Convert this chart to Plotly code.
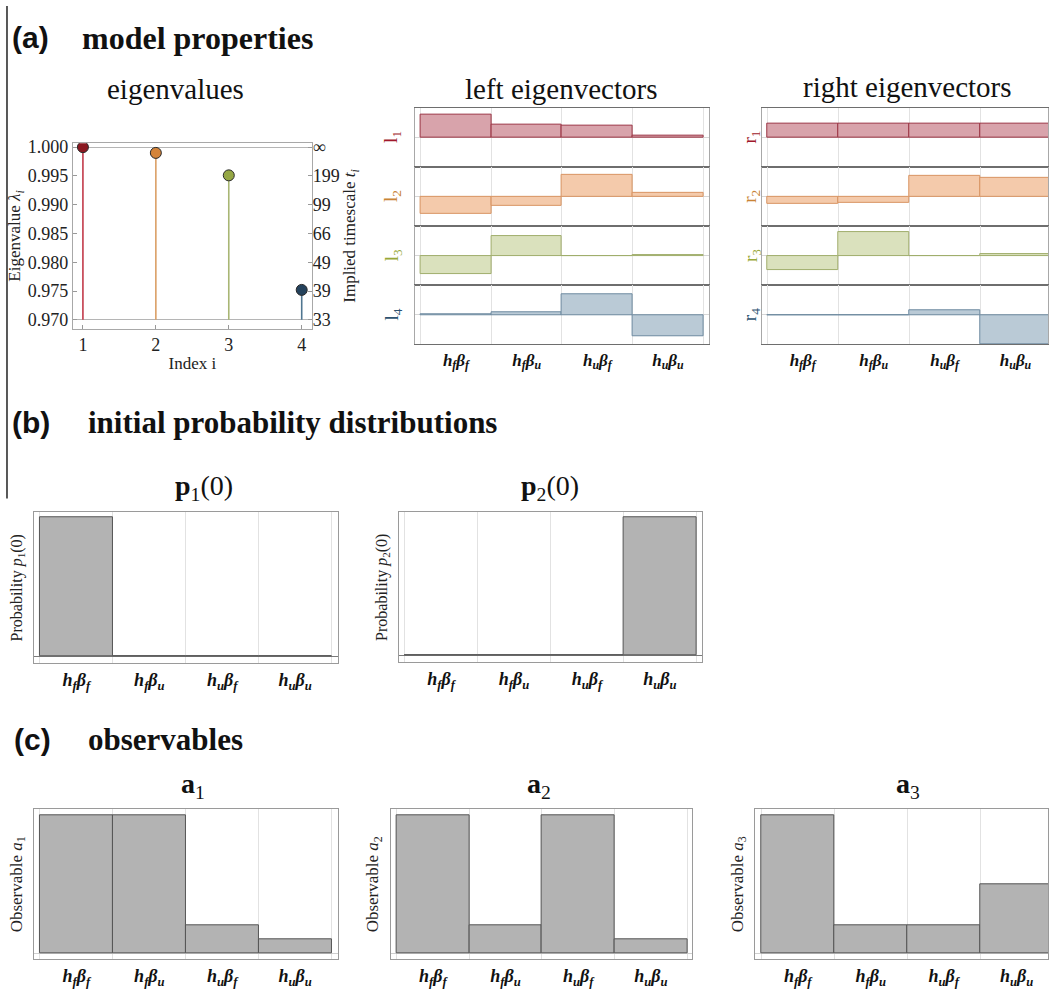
import plotly.graph_objects as go

W, H = 1049, 989
SERIF = "Liberation Serif"
SANS = "Liberation Sans"
GRID = "#e2e2e2"

# ---------------- data ----------------
INDEX = [1, 2, 3, 4]
EIGENVALUES = [1.0000, 0.9990, 0.9951, 0.9752]
STEM_BASE = 0.970
LAMBDA_TICKS = [0.970, 0.975, 0.980, 0.985, 0.990, 0.995, 1.000]
LAMBDA_TICK_TEXT = ["0.970", "0.975", "0.980", "0.985", "0.990", "0.995", "1.000"]
TIMESCALE_TICK_TEXT = ["33", "39", "49", "66", "99", "199", "∞"]

STATE_LABELS = [
    "<b><i>h<sub>f</sub>β<sub>f</sub></i></b>",
    "<b><i>h<sub>f</sub>β<sub>u</sub></i></b>",
    "<b><i>h<sub>u</sub>β<sub>f</sub></i></b>",
    "<b><i>h<sub>u</sub>β<sub>u</sub></i></b>",
]

L1 = [0.77, 0.43, 0.38, 0.07]
L2 = [-0.60, -0.31, 0.73, 0.13]
L3 = [-0.63, 0.67, -0.01, 0.01]
L4 = [0.01, 0.09, 0.69, -0.72]

R1 = [0.47, 0.47, 0.47, 0.47]
R2 = [-0.24, -0.22, 0.68, 0.62]
R3 = [-0.48, 0.80, -0.02, 0.05]
R4 = [0.0, 0.0, 0.17, -0.98]

P1 = [1.0, 0.0, 0.0, 0.0]
P2 = [0.0, 0.0, 0.0, 1.0]

A1 = [1.0, 1.0, 0.2, 0.1]
A2 = [1.0, 0.2, 1.0, 0.1]
A3 = [1.0, 0.2, 0.2, 0.5]

# ---------------- styles ----------------
MARKER_COLORS = ["#8a1820", "#d4843a", "#95a744", "#24425c"]
STEM_COLORS = ["#c23a4a", "#dba066", "#a9b674", "#4f7690"]
ROW_FILLS = ["#d8a3ab", "#f4caab", "#dae1bd", "#bacad6"]
ROW_EDGES = ["#9b3444", "#d89462", "#a1ae6c", "#6d8aa0"]
ROW_LABEL_COLORS = ["#a0182a", "#c98436", "#98a838", "#2d5270"]
GRAY_FILL = "#b3b3b3"
GRAY_EDGE = "#555555"


def xd(a, b):
    return [a / W, min(b / W, 1.0)]


def yd(top, bottom):
    return [1 - bottom / H, 1 - top / H]


def xk(n):
    return "xaxis" if n == 1 else f"xaxis{n}"


def yk(n):
    return "yaxis" if n == 1 else f"yaxis{n}"


def xr(n):
    return "x" if n == 1 else f"x{n}"


def yr(n):
    return "y" if n == 1 else f"y{n}"


fig = go.Figure()
layout = {}

# ---------------- eigenvalue panel ----------------
for i, lam, c in zip(INDEX, EIGENVALUES, STEM_COLORS):
    fig.add_trace(go.Scatter(x=[i, i], y=[STEM_BASE, lam], mode="lines",
                             line=dict(color=c, width=1.6), showlegend=False,
                             hoverinfo="skip", xaxis="x", yaxis="y"))
fig.add_trace(go.Scatter(x=INDEX, y=EIGENVALUES, mode="markers",
                         marker=dict(size=11, color=MARKER_COLORS,
                                     line=dict(color="#2a2a2a", width=1)),
                         showlegend=False, xaxis="x", yaxis="y"))
# invisible companions so the overlaid axes (timescale + reference lines) are drawn
for ya_ref in ["y2", "y3"]:
    fig.add_trace(go.Scatter(x=INDEX, y=EIGENVALUES, mode="markers",
                             marker=dict(size=1, opacity=0), showlegend=False,
                             hoverinfo="skip", xaxis="x", yaxis=ya_ref))

TICKFONT_EIG = dict(family=SERIF, size=18, color="#222")
eig_yrange = [0.96846, 1.00069]
layout["xaxis"] = dict(domain=xd(73, 312), anchor="y", range=[0.863, 4.137],
                       tickvals=INDEX, ticktext=[str(v) for v in INDEX],
                       ticks="inside", ticklen=4, tickcolor="#999",
                       showline=True, mirror=True, linecolor="#a8a8a8",
                       showgrid=False, zeroline=False,
                       tickfont=TICKFONT_EIG,
                       title=dict(text="Index i", font=dict(family=SERIF, size=17, color="#222"),
                                  standoff=2))
layout["yaxis"] = dict(domain=yd(139, 327), anchor="x", range=eig_yrange,
                       tickvals=LAMBDA_TICKS, ticktext=LAMBDA_TICK_TEXT,
                       ticks="inside", ticklen=4, tickcolor="#999",
                       showline=True, mirror=True, linecolor="#a8a8a8",
                       showgrid=False, zeroline=False,
                       tickfont=TICKFONT_EIG,
                       title=dict(text="Eigenvalue <i>λ<sub>i</sub></i>",
                                  font=dict(family=SERIF, size=17, color="#222"), standoff=2))
layout["yaxis2"] = dict(domain=yd(139, 327), anchor="x", overlaying="y", side="right",
                        range=eig_yrange, tickvals=LAMBDA_TICKS, ticktext=TIMESCALE_TICK_TEXT,
                        ticks="inside", ticklen=4, tickcolor="#999",
                        showgrid=False, zeroline=False, showline=False,
                        tickfont=TICKFONT_EIG,
                        title=dict(text="Implied timescale <i>t<sub>i</sub></i>",
                                   font=dict(family=SERIF, size=17, color="#222"), standoff=4))
layout["yaxis3"] = dict(domain=yd(139, 327), anchor="x", overlaying="y",
                        range=eig_yrange, tickvals=[LAMBDA_TICKS[0], LAMBDA_TICKS[-1]],
                        showgrid=True, gridcolor="#b5b5b5", gridwidth=1.2,
                        showticklabels=False, ticks="", zeroline=False, showline=False)


# ---------------- bar panels ----------------
def bar_panel(xn, yn, xdom, ydom, xrange, yrange, values, fill, edge,
              show_labels, label_size, xline, yline, zcolor, ytitle=None, ytitle_size=16):
    fig.add_trace(go.Bar(x=STATE_LABELS, y=values, width=1.0,
                         marker=dict(color=fill, line=dict(color=edge, width=1)),
                         showlegend=False, xaxis=xr(xn), yaxis=yr(yn)))
    layout[xk(xn)] = dict(domain=xdom, anchor=yr(yn), type="category",
                          categoryorder="array", categoryarray=STATE_LABELS,
                          range=xrange, tickson="boundaries", showgrid=True,
                          gridcolor=GRID, gridwidth=1, showline=True, mirror=True,
                          linecolor=xline, linewidth=1, ticks="",
                          showticklabels=show_labels, zeroline=False,
                          tickfont=dict(family=SERIF, size=label_size, color="#111"))
    ya = dict(domain=ydom, anchor=xr(xn), range=yrange, showgrid=False,
              showline=True, mirror=True, linecolor=yline, ticks="",
              showticklabels=False, zeroline=True, zerolinecolor=zcolor,
              zerolinewidth=1)
    if ytitle:
        ya["title"] = dict(text=ytitle, font=dict(family=SERIF, size=ytitle_size, color="#222"),
                           standoff=6)
    layout[yk(yn)] = ya


ROWS = [(103, 163), (163, 223), (223, 283), (283, 343)]
LEFT_VECS = [L1, L2, L3, L4]
RIGHT_VECS = [R1, R2, R3, R4]

xn, yn = 2, 4
for r, (vals, (t, b)) in enumerate(zip(LEFT_VECS, ROWS)):
    bar_panel(xn, yn, xd(415, 710), yd(t, b), [-0.585, 3.585], [-1, 1], vals,
              ROW_FILLS[r], ROW_EDGES[r], r == 3, 17, "#6e6e6e", "#a8a8a8", "#d6d6d6")
    xn += 1
    yn += 1
for r, (vals, (t, b)) in enumerate(zip(RIGHT_VECS, ROWS)):
    bar_panel(xn, yn, xd(763, 1049), yd(t, b), [-0.57, 3.458], [-1, 1], vals,
              ROW_FILLS[r], ROW_EDGES[r], r == 3, 17, "#6e6e6e", "#a8a8a8", "#d6d6d6")
    xn += 1
    yn += 1

# p panels
bar_panel(xn, yn, xd(34, 338), yd(513, 666), [-0.582, 3.582], [-0.05, 1.035], P1,
          GRAY_FILL, GRAY_EDGE, True, 18, "#9a9a9a", "#9a9a9a", "#7a7a7a",
          "Probability <i>p</i><sub>1</sub>(0)", 16)
xn += 1
yn += 1
bar_panel(xn, yn, xd(399, 703), yd(513, 665), [-0.582, 3.582], [-0.05, 1.035], P2,
          GRAY_FILL, GRAY_EDGE, True, 18, "#9a9a9a", "#9a9a9a", "#7a7a7a",
          "Probability <i>p</i><sub>2</sub>(0)", 16)
xn += 1
yn += 1

# observable panels
for vals, (a, b), rng, idx in zip([A1, A2, A3],
                                  [(34, 338), (391, 693), (756, 1049)],
                                  [[-0.582, 3.582], [-0.582, 3.57], [-0.582, 3.43]],
                                  [1, 2, 3]):
    bar_panel(xn, yn, xd(a, b), yd(814, 966), rng, [-0.043, 1.043], vals,
              GRAY_FILL, GRAY_EDGE, True, 18, "#9a9a9a", "#9a9a9a", "#cfcfcf",
              f"Observable <i>a</i><sub>{idx}</sub>", 17)
    xn += 1
    yn += 1

# ---------------- annotations ----------------
ann = []


def text(x, y, s, size, family=SERIF, weight="normal", xanchor="center",
         color="#111", angle=0):
    ann.append(dict(x=x / W, y=1 - y / H, xref="paper", yref="paper", text=s,
                    showarrow=False, xanchor=xanchor, yanchor="middle",
                    textangle=angle,
                    font=dict(family=family, size=size, color=color, weight=weight)))


text(10, 32, "(a)", 30, SANS, "bold", "left")
text(80, 32, "model properties", 32, SERIF, "bold", "left")
text(10, 422, "(b)", 30, SANS, "bold", "left")
text(86, 422, "initial probability distributions", 31, SERIF, "bold", "left")
text(12, 743, "(c)", 30, SANS, "bold", "left")
text(86, 743, "observables", 31, SERIF, "bold", "left")

text(176, 84, "eigenvalues", 29)
text(562, 84, "left eigenvectors", 29)
text(908, 82, "right eigenvectors", 29)

text(204, 488, "<b>p</b><sub>1</sub>(0)", 28)
text(551, 488, "<b>p</b><sub>2</sub>(0)", 28)
text(193, 790, "<b>a</b><sub>1</sub>", 28)
text(540, 790, "<b>a</b><sub>2</sub>", 28)
text(909, 790, "<b>a</b><sub>3</sub>", 28)

for r, (t, b) in enumerate(ROWS):
    cy = (t + b) / 2
    text(393, cy, f"l<sub>{r + 1}</sub>", 19, color=ROW_LABEL_COLORS[r], angle=-90)
    text(752, cy, f"r<sub>{r + 1}</sub>", 19, color=ROW_LABEL_COLORS[r], angle=-90)

layout["annotations"] = ann
layout["shapes"] = [dict(type="line", xref="paper", yref="paper",
                         x0=7 / W, x1=7 / W, y0=1 - 499 / H, y1=1.0,
                         line=dict(color="#222", width=1.5))]

fig.update_layout(**layout)
fig.update_layout(width=W, height=H, margin=dict(l=0, r=0, t=0, b=0),
                  paper_bgcolor="white", plot_bgcolor="white",
                  bargap=0, showlegend=False,
                  font=dict(family=SERIF, color="#111"))

fig.write_html("out.html")
